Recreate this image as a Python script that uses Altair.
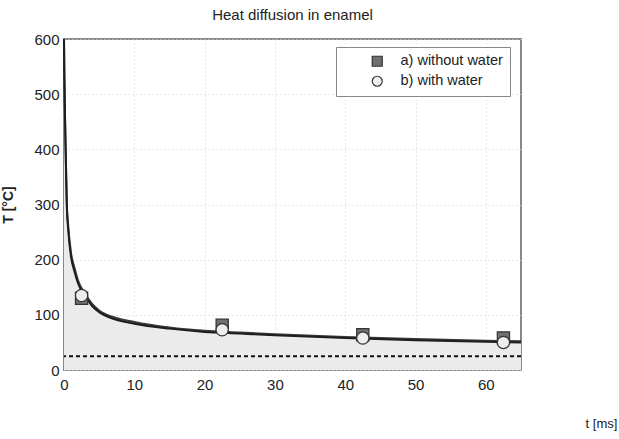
import altair as alt
import pandas as pd

# Simulated temperature curves
t_curve = [0, 0.05, 0.15, 0.25, 0.4, 0.6, 1, 1.5, 2, 3, 4, 5, 7, 10, 15, 20, 25, 30, 40, 50, 60, 65]
T_upper = [600, 540, 460, 395, 305, 262, 212, 185, 162, 138, 120, 108, 96, 87, 77, 71, 68, 65, 60, 56, 53, 52]
T_lower = [600, 530, 450, 385, 297, 254, 205, 178, 157, 134, 116, 105, 93, 84, 75, 69, 66, 63, 58, 54, 51, 50]

# Measured points
t_points = [2.5, 22.5, 42.5, 62.5]
T_without = [130, 81, 64, 58]
T_with = [135, 73, 58, 50]
series = ["a) without water", "b) with water"]

room_T = [25]

x_ticks = [0, 10, 20, 30, 40, 50, 60]
y_ticks = [0, 100, 200, 300, 400, 500, 600]

curve_df = pd.DataFrame({"t": t_curve, "upper": T_upper, "lower": T_lower})
pts_df = pd.DataFrame({
    "t": t_points * 2,
    "T": T_without + T_with,
    "series": [series[0]] * 4 + [series[1]] * 4,
})
room_df = pd.DataFrame({"T": room_T})

FONT = "Liberation Sans"

x_enc = alt.X(
    "t:Q",
    scale=alt.Scale(domain=[0, 65], nice=False),
    axis=alt.Axis(
        values=x_ticks, title="t [ms]", titleX=537, titleY=53,
        titleAnchor="start", titleAlign="center", titleBaseline="middle",
        titleFontWeight="normal", titleFontSize=13,
        labelPadding=7, labelFlush=False, ticks=False, domain=False,
        grid=True, gridColor="#d0d0d0", gridDash=[1, 3], gridWidth=1,
        labelFontSize=15, labelColor="#222",
    ),
)

area = alt.Chart(curve_df).mark_area(color="#ebebeb", interpolate="monotone").encode(
    x=x_enc,
    y=alt.Y(
        "upper:Q",
        scale=alt.Scale(domain=[0, 600], nice=False),
        axis=alt.Axis(
            values=y_ticks, title="T [°C]", titleFontWeight="bold", titleFontSize=14,
            titlePadding=18, labelPadding=5, labelFlush=False, ticks=False, domain=False,
            grid=True, gridColor="#d0d0d0", gridDash=[1, 3], gridWidth=1,
            labelFontSize=15, labelColor="#222",
        ),
    ),
)

line_up = alt.Chart(curve_df).mark_line(color="#3a3a3a", strokeWidth=2, interpolate="monotone").encode(
    x="t:Q", y="upper:Q"
)
line_lo = alt.Chart(curve_df).mark_line(color="#1e1e1e", strokeWidth=2, interpolate="monotone").encode(
    x="t:Q", y="lower:Q"
)

rule = alt.Chart(room_df).mark_rule(color="#111", strokeWidth=2, strokeDash=[4, 3]).encode(
    y="T:Q"
)

leg = alt.Legend(
    title=None, orient="none", legendX=272, legendY=8,
    padding=7, symbolOffset=27, labelOffset=16,
    fillColor="white", strokeColor="#888", symbolStrokeWidth=1.2,
    symbolSize=100, labelFontSize=14.5, labelFont=FONT, labelColor="#222",
    rowPadding=4, labelLimit=300,
)

points = alt.Chart(pts_df).mark_point(filled=True, size=150, strokeWidth=1.2, opacity=1).encode(
    x="t:Q",
    y="T:Q",
    shape=alt.Shape("series:N", scale=alt.Scale(domain=series, range=["square", "circle"]), legend=leg),
    fill=alt.Fill("series:N", scale=alt.Scale(domain=series, range=["#707070", "#eeeeee"]), legend=leg),
    stroke=alt.Stroke("series:N", scale=alt.Scale(domain=series, range=["#333333", "#333333"]), legend=leg),
)

chart = alt.layer(area, rule, line_up, line_lo, points).properties(
    width=457, height=331,
    title=alt.Title("Heat diffusion in enamel", fontSize=15, fontWeight="normal", font=FONT, color="#222", offset=9),
    padding={"left": 64, "top": 39, "right": 98, "bottom": 69},
    autosize=alt.AutoSizeParams(type="none"),
).configure(font=FONT).configure_view(stroke="#888", strokeWidth=2).configure_axis(
    labelFont=FONT, titleFont=FONT, titleColor="#222"
)

chart.save("out.html", embed_options={"renderer": "svg", "actions": False})
